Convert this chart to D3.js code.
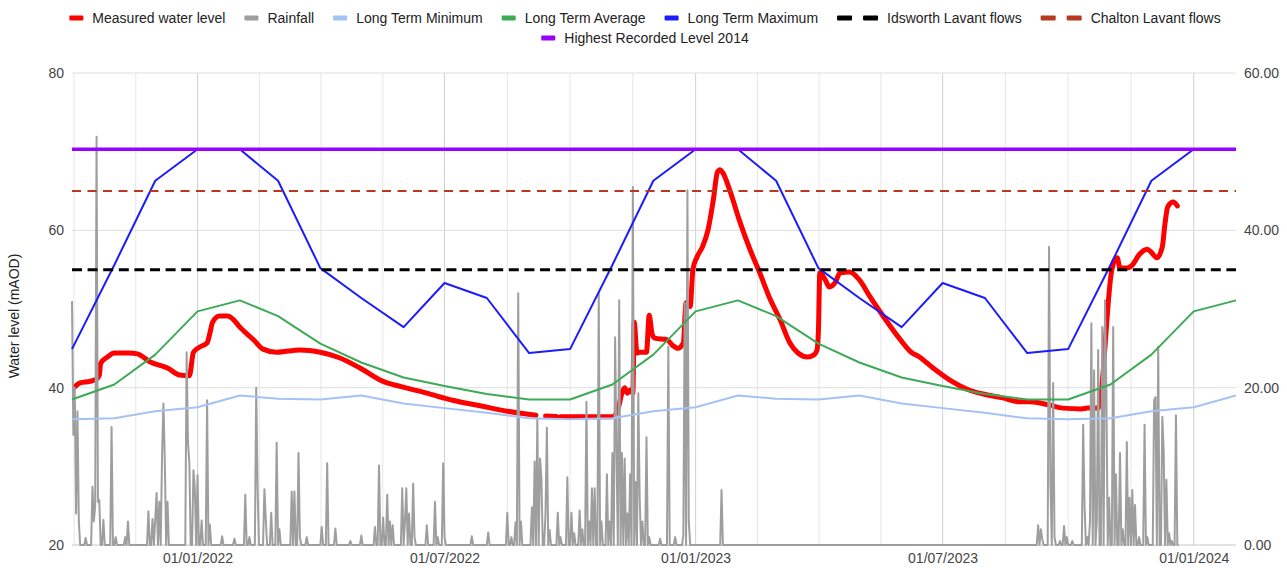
<!DOCTYPE html>
<html>
<head>
<meta charset="utf-8">
<script src="https://d3js.org/d3.v7.min.js"></script>
<style>
  body { margin: 0; background: #fff; }
  svg text { font-family: "Liberation Sans", Arial, sans-serif; }
</style>
</head>
<body>
<svg id="chart"></svg>
<script>
// ---- data ----
// long term monthly levels (mAOD), Jan..Dec
var ltMinimum = [37.5, 39.0, 38.6, 38.5, 39.0, 38.0, 37.4, 36.8, 36.1, 36.0, 36.1, 37.0];
var ltAverage = [49.7, 51.1, 49.1, 45.6, 43.2, 41.3, 40.2, 39.2, 38.5, 38.5, 40.4, 44.2];
var ltMaximum = [70.3, 70.3, 66.3, 55.2, 51.4, 47.7, 53.3, 51.4, 44.4, 44.9, 55.6, 66.3];

// threshold levels (mAOD)
var idsworthFlows = 55.0;
var chaltonFlows = 65.0;
var highest2014 = 70.3;

// record starts 01/10/2021, day numbers count from there
var recordStart = "2021-10-01";
var recordEnd = "2024-02-01";

// measured water level [day, mAOD], null = no reading
var measuredLevel = [
  [2, 40.1], [6, 40.6], [13, 40.8], [18, 41.1], [20, 41.6], [21, 43.1], [26, 43.9], [31, 44.4],
  [42, 44.4], [48, 44.3], [57, 43.3], [70, 42.5], [79, 41.6], [86, 41.5], [89, 44.5], [94, 45.2],
  [99, 45.7], [101, 46.9], [103, 48.3], [108, 49.1], [114, 49.1], [118, 48.7], [123, 47.7],
  [133, 46.1], [140, 44.9], [150, 44.5], [167, 44.8], [182, 44.5], [196, 43.8], [211, 42.5],
  [228, 40.8], [242, 40.1], [260, 39.3], [279, 38.4], [299, 37.7], [319, 37.0], [333, 36.65],
  [340, 36.5], [343, null], [347, 36.4], [355, 36.35], [356, null], [358, 36.3], [396, 36.3],
  [400, 37.2], [403, 39.3], [405, 40.0], [407, 39.3], [409, 39.7], [411, 39.3], [412, 48.3],
  [414, 44.4], [416, 44.5], [421, 44.5], [423, 49.2], [425, 46.9], [427, 46.3], [436, 46.1],
  [440, 45.4], [444, 45.0], [448, 45.7], [450, 50.8], [453, 50.3], [455, 55.0], [458, 56.6],
  [462, 57.9], [466, 60.0], [470, 63.9], [473, 67.4], [475, 67.7], [477, 67.3], [482, 65.1],
  [489, 61.3], [497, 57.5], [504, 54.6], [511, 51.5], [519, 48.6], [526, 45.7], [532, 44.4],
  [539, 43.9], [544, 44.2], [546, 44.8], [547, 47.3], [548, 54.6], [552, 53.7], [555, 52.8],
  [559, 53.3], [563, 54.6], [570, 54.7], [577, 53.7], [585, 51.5], [594, 49.2], [607, 46.1],
  [615, 44.5], [621, 43.9], [631, 42.5], [643, 41.0], [656, 39.8], [670, 39.1], [682, 38.7],
  [694, 38.2], [702, 38.2], [716, 37.8], [726, 37.4], [740, 37.3], [744, 37.4], [752, 37.4],
  [762, 55.0], [764, 56.2], [766, 56.5], [768, 55.2], [773, 55.2], [777, 55.6], [782, 56.9],
  [788, 57.6], [791, 57.2], [795, 56.5], [799, 57.9], [801, 60.9], [803, 63.0], [807, 63.6],
  [810, 63.1]
];

// daily rainfall (mm) on wet days [day, mm]; other days up to rainLastDay are dry
var rainLastDay = 811;
var rainWetDays = [
  [0, 31], [1, 14], [2, 20], [3, 4], [4, 17], [5, 3], [10, 0.9], [15, 7.4], [16, 3], [17, 5],
  [18, 51.9], [19, 5.5], [20, 5.7], [23, 3.2], [29, 15], [32, 1], [39, 1], [41, 3],
  [56, 4.3], [59, 3.3], [61, 3.3], [62, 6.6], [64, 5.5], [66, 11.4], [67, 18], [68, 10.8], [70, 5.5],
  [84, 24.5], [85, 13], [86, 10.4], [89, 9.5], [90, 7.3], [92, 8.9], [95, 3.1], [99, 18.4], [101, 2.6],
  [110, 1.1], [119, 0.8], [127, 6.4], [130, 1], [135, 20], [136, 7.2], [141, 7.1], [142, 3.3],
  [146, 4.1], [150, 13], [152, 2], [161, 6.8], [163, 6.8], [166, 11.7], [167, 1], [172, 1],
  [183, 2.3], [187, 10.4], [193, 2.1], [204, 0.5], [212, 1.2], [222, 2.3], [225, 10.1], [228, 3.5],
  [231, 6.4], [233, 3], [235, 2.5], [242, 7.2], [244, 3], [245, 7.2], [247, 4], [250, 7.8], [251, 1],
  [260, 2.5], [266, 5.5], [268, 1], [272, 10.4], [273, 1], [293, 1.1], [305, 1.6],
  [319, 4.1], [322, 1], [325, 2.9], [327, 32], [329, 3], [337, 4.8], [339, 10.6], [341, 16.1],
  [343, 11], [344, 8.4], [347, 4], [348, 14.9], [350, 1.9], [356, 4.1], [358, 1], [363, 8.6],
  [366, 4.1], [368, 1.5], [372, 4.4], [374, 2], [377, 18.2], [379, 3], [381, 7.2], [383, 7.2],
  [386, 32], [388, 3], [392, 9], [394, 3], [396, 11.7], [398, 26.4], [399, 12], [401, 31.1],
  [403, 11.7], [405, 11], [407, 4], [409, 9], [411, 45.5], [413, 8], [415, 19.3], [416, 6],
  [418, 3], [421, 13.7], [423, 1], [431, 0.8], [437, 25.2], [442, 1], [448, 1.2], [449, 30.8],
  [451, 45.1], [452, 3], [476, 7],
  [708, 2.5], [710, 2], [711, 0.8], [716, 37.9], [717, 8], [719, 20.6], [720, 1], [724, 0.5],
  [727, 2.4], [729, 1], [733, 0.5], [741, 15.3], [742, 5], [744, 1], [746, 3], [747, 28.2],
  [749, 22.2], [751, 3], [752, 24.8], [755, 27.7], [757, 31.1], [758, 19.7], [760, 6], [763, 27.7],
  [765, 9], [768, 11.7], [770, 2], [773, 13.1], [775, 6], [777, 7], [779, 5.1], [782, 1],
  [786, 15.3], [788, 1], [793, 18.4], [794, 18.8], [796, 25.2], [799, 16.3], [800, 12], [802, 8.3],
  [804, 1.5], [806, 0.5], [809, 16.5]
];

var leftTicks = [20, 40, 60, 80];
var rightTicks = [0, 20, 40, 60];
var dateTicks = ["2022-01-01", "2022-07-01", "2023-01-01", "2023-07-01", "2024-01-01"];

var legendRow1 = ["Measured water level", "Rainfall", "Long Term Minimum", "Long Term Average",
  "Long Term Maximum", "Idsworth Lavant flows", "Chalton Lavant flows"];
var legendRow2 = ["Highest Recorded Level 2014"];

// ---- setup ----
var W = 1287, H = 568;
var margin = { top: 73, right: 51, bottom: 23, left: 72 };
var plotRight = W - margin.right, plotBottom = H - margin.bottom;

var svg = d3.select("#chart").attr("width", W).attr("height", H);
svg.append("rect").attr("width", W).attr("height", H).attr("fill", "#fff");

var parse = d3.timeParse("%Y-%m-%d");
var startDate = parse(recordStart);
function dayToDate(d) { return d3.timeDay.offset(startDate, d); }

var x = d3.scaleTime()
  .domain([startDate, parse(recordEnd)])
  .range([margin.left, plotRight]);
var yLeft = d3.scaleLinear().domain([20, 80]).range([plotBottom, margin.top]);
var yRight = d3.scaleLinear().domain([0, 60]).range([plotBottom, margin.top]);

// ---- gridlines ----
var grid = svg.append("g");
var majors = dateTicks.map(parse);
var majorX = majors.map(function (d) { return x(d); });
var vlines = [];
for (var i = 0; i < majorX.length; i++) {
  vlines.push({ x: majorX[i], major: true });
  if (i < majorX.length - 1) {
    var st = (majorX[i + 1] - majorX[i]) / 4;
    for (var k = 1; k < 4; k++) vlines.push({ x: majorX[i] + k * st, major: false });
  }
}
var step0 = (majorX[1] - majorX[0]) / 4;
for (var xx = majorX[0] - step0; xx >= margin.left - 2; xx -= step0) vlines.push({ x: Math.max(xx, margin.left), major: false });
var stepN = (majorX[majorX.length - 1] - majorX[majorX.length - 2]) / 4;
for (var xx2 = majorX[majorX.length - 1] + stepN; xx2 <= plotRight; xx2 += stepN) vlines.push({ x: xx2, major: false });

grid.selectAll("line.v").data(vlines).enter().append("line")
  .attr("x1", function (d) { return d.x; }).attr("x2", function (d) { return d.x; })
  .attr("y1", margin.top).attr("y2", plotBottom)
  .attr("stroke", function (d) { return d.major ? "#d0d0d0" : "#e6e6e6"; })
  .attr("stroke-width", 1);

grid.selectAll("line.h").data(leftTicks).enter().append("line")
  .attr("x1", margin.left).attr("x2", plotRight)
  .attr("y1", function (d) { return yLeft(d); }).attr("y2", function (d) { return yLeft(d); })
  .attr("stroke", function (d) { return d === 20 ? "#c8c8c8" : "#dedede"; })
  .attr("stroke-width", 1);

// ---- axes ----
function styleAxis(g) {
  g.select(".domain").remove();
  g.selectAll("text").attr("fill", "#444").style("font-size", "14px");
}
svg.append("g").attr("transform", "translate(" + margin.left + ",0)")
  .call(d3.axisLeft(yLeft).tickValues(leftTicks).tickSize(0).tickPadding(8))
  .call(styleAxis);
svg.append("g").attr("transform", "translate(" + plotRight + ",0)")
  .call(d3.axisRight(yRight).tickValues(rightTicks).tickSize(0).tickPadding(8).tickFormat(d3.format(".2f")))
  .call(styleAxis);
svg.append("g").attr("transform", "translate(0," + plotBottom + ")")
  .call(d3.axisBottom(x).tickValues(majors).tickSize(0).tickPadding(8).tickFormat(d3.timeFormat("%d/%m/%Y")))
  .call(styleAxis);

svg.append("text")
  .attr("transform", "translate(19," + 316 + ") rotate(-90)")
  .attr("text-anchor", "middle")
  .attr("fill", "#222")
  .style("font-size", "14px")
  .text("Water level (mAOD)");

// ---- series ----
var plot = svg.append("g");

// measured water level
var measured = measuredLevel.map(function (p) { return { date: dayToDate(p[0]), v: p[1] }; });
plot.append("path").datum(measured)
  .attr("fill", "none").attr("stroke", "#ff0000").attr("stroke-width", 5)
  .attr("stroke-linejoin", "round").attr("stroke-linecap", "round")
  .attr("d", d3.line().defined(function (d) { return d.v !== null; })
    .x(function (d) { return x(d.date); }).y(function (d) { return yLeft(d.v); })
    .curve(d3.curveMonotoneX));

// rainfall
var wet = new Map(rainWetDays);
var rain = d3.range(0, rainLastDay + 1).map(function (d) { return { date: dayToDate(d), v: wet.get(d) || 0 }; });
plot.append("path").datum(rain)
  .attr("fill", "none").attr("stroke", "#9e9e9e").attr("stroke-width", 2)
  .attr("stroke-linejoin", "round")
  .attr("d", d3.line().x(function (d) { return x(d.date); }).y(function (d) { return yRight(d.v); }));

// long term monthly lines
var months = d3.timeMonth.range(startDate, d3.timeDay.offset(parse(recordEnd), 1));
function monthly(arr) { return months.map(function (m) { return { date: m, v: arr[m.getMonth()] }; }); }
var ltLine = d3.line().x(function (d) { return x(d.date); }).y(function (d) { return yLeft(d.v); });
[[ltMinimum, "#a4c2f4"], [ltAverage, "#3daa57"], [ltMaximum, "#1c1cff"]].forEach(function (s) {
  plot.append("path").datum(monthly(s[0]))
    .attr("fill", "none").attr("stroke", s[1]).attr("stroke-width", 2)
    .attr("stroke-linejoin", "round")
    .attr("d", ltLine);
});

// threshold lines
function hline(v, color, width, dash) {
  plot.append("line")
    .attr("x1", margin.left).attr("x2", plotRight)
    .attr("y1", yLeft(v)).attr("y2", yLeft(v))
    .attr("stroke", color).attr("stroke-width", width)
    .attr("stroke-dasharray", dash);
}
hline(idsworthFlows, "#000", 3, "10 5.6");
hline(chaltonFlows, "#b8391f", 2.2, "9 6.5");
hline(highest2014, "#9900ff", 3.5, null);

// ---- legend ----
var legendColors = ["#ff0000", "#9e9e9e", "#a4c2f4", "#3daa57", "#1c1cff", "#000", "#b8391f"];
var legend = svg.append("g");
function drawRow(items, colors, dashed, cy) {
  var g = legend.append("g");
  var cursor = 0;
  items.forEach(function (label, i) {
    var sw = dashed[i] ? 41 : 14;
    var it = g.append("g").attr("transform", "translate(" + cursor + ",0)");
    if (dashed[i]) {
      it.append("rect").attr("x", 0).attr("y", cy - 2.5).attr("width", 15).attr("height", 5).attr("rx", 1).attr("fill", colors[i]);
      it.append("rect").attr("x", 26).attr("y", cy - 2.5).attr("width", 15).attr("height", 5).attr("rx", 1).attr("fill", colors[i]);
    } else {
      it.append("rect").attr("x", 0).attr("y", cy - 2.5).attr("width", sw).attr("height", 5).attr("rx", 1).attr("fill", colors[i]);
    }
    var t = it.append("text").attr("x", sw + 9).attr("y", cy + 5)
      .attr("fill", "#222").style("font-size", "14px").text(label);
    cursor += sw + 9 + t.node().getComputedTextLength() + 19;
  });
  var total = cursor - 19;
  g.attr("transform", "translate(" + (645 - total / 2) + ",0)");
}
drawRow(legendRow1, legendColors, [false, false, false, false, false, true, true], 18);
drawRow(legendRow2, ["#9900ff"], [false], 38);
</script>
</body>
</html>
